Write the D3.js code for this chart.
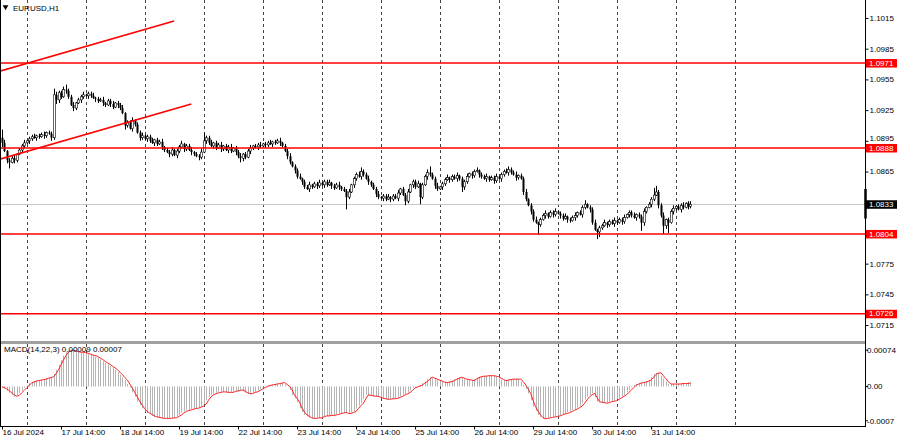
<!DOCTYPE html>
<html><head><meta charset="utf-8">
<script src="https://cdn.jsdelivr.net/npm/d3@7"></script>
<style>
body{margin:0;background:#fff}
svg{display:block}
text{font-family:"Liberation Sans",Arial,sans-serif;font-size:8px;fill:#000}
</style>
</head><body>
<svg id="c" width="900" height="441"></svg>
<script>
// ---------------- DATA ----------------
const symbolTitle = "EURUSD,H1";
const macdTitle = "MACD(14,22,3) 0.00009 0.00007";
const dateLabels = ["16 Jul 2024","17 Jul 14:00","18 Jul 14:00","19 Jul 14:00","22 Jul 14:00","23 Jul 14:00","24 Jul 14:00","25 Jul 14:00","26 Jul 14:00","29 Jul 14:00","30 Jul 14:00","31 Jul 14:00"];
const dateLabelBars = [0,24,48,72,96,120,144,168,192,216,240,264];   // bar index of each label
const dayStartBars = [10,34,58,82,106,130,154,178,202,226,250,274,298]; // bar index of each midnight
const priceTicks = [1.1015,1.0985,1.0955,1.0925,1.0895,1.0865,1.0775,1.0745,1.0715];
const levels = [1.0971,1.0888,1.0804,1.0726];
const bidPrice = 1.0833;
const lastBarMarker = [1.0819,1.0848];
const trendLines = [
  [[-1,1.0963],[70,1.1012]],
  [[-1,1.0877],[77,1.0931]]
];
const macdTicks = [0.00074,0,-0.0007];
const macdTickLabels = ["0.00074","0.00","-0.0007"];

// H1 candles, prices in pips: price = 1 + pips/10000
const openPips = [898,893,885,876,874,878,876,882,886,890,
893,895,897,899,898,900,899,901,900,903,
902,898,940,935,942,938,945,944,938,930,
927,932,935,938,940,939,941,939,937,936,
934,935,932,930,934,931,928,932,930,927,
922,910,913,907,915,911,903,898,900,897,
899,895,893,896,892,894,889,886,884,882,
886,881,885,889,892,887,890,886,884,882,
880,879,884,895,898,893,890,893,888,891,
887,890,886,889,885,888,884,880,878,882,
879,885,888,890,889,891,890,892,891,893,
892,894,893,895,893,890,885,880,874,870,
866,860,858,855,850,848,852,850,853,851,
854,852,855,852,854,851,849,852,850,848,
846,840,845,852,858,862,860,865,862,858,
855,852,848,843,840,839,841,838,840,838,
841,839,844,848,842,836,845,852,855,850,
853,840,852,860,864,862,858,851,848,850,
853,857,859,857,860,858,861,858,850,855,
860,863,861,865,866,862,860,858,860,857,
859,856,860,858,862,865,864,867,864,862,
859,861,858,845,838,832,826,818,815,813,
818,822,824,821,825,823,826,824,822,819,
821,818,817,820,822,825,823,830,833,830,
828,815,808,806,810,812,815,813,816,814,
817,815,818,816,820,823,825,822,820,823,
821,815,826,830,833,838,842,845,832,822,
812,818,815,826,829,831,828,832,830,834,
831];
const highPips = [906,896,886,878,880,881,883,888,892,896,
896,899,901,902,901,902,903,904,904,905,
904,946,943,944,944,948,950,946,940,933,
933,937,940,943,941,943,943,942,938,938,
937,938,933,936,936,934,933,934,932,930,
923,915,915,918,916,913,905,903,901,901,
901,898,897,898,896,897,890,888,886,889,
887,887,891,895,893,892,892,889,885,884,
882,887,903,900,900,896,894,895,893,894,
891,892,891,892,889,890,886,883,883,884,
887,891,891,892,893,894,893,894,895,896,
895,896,897,898,894,892,887,883,875,872,
868,863,859,857,852,855,853,855,855,857,
855,857,857,857,855,853,854,855,851,850,
848,848,853,860,864,865,869,867,864,861,
856,854,850,846,841,843,843,843,841,843,
843,847,849,850,844,848,853,857,857,856,
854,854,862,867,870,864,860,854,851,855,
859,862,860,862,862,864,862,860,857,863,
864,865,867,869,867,864,862,863,861,861,
861,863,861,864,867,868,870,869,866,865,
862,863,860,848,839,834,828,821,816,820,
824,827,825,827,827,829,827,826,824,824,
822,820,822,825,826,827,832,837,834,832,
830,818,809,812,814,818,816,818,818,820,
818,820,820,823,824,827,827,825,824,825,
823,829,831,835,840,849,851,847,834,825,
819,820,828,832,832,833,834,835,835,836,
836];
const lowPips = [889,884,873,868,873,873,874,881,883,888,
892,892,895,897,895,897,898,897,898,901,
895,896,931,932,936,937,941,936,929,924,
925,931,932,936,938,936,937,936,933,932,
933,929,928,929,928,926,927,927,925,921,
906,908,906,904,909,902,895,896,896,894,
893,892,890,890,891,886,884,883,879,880,
880,878,883,888,884,885,885,881,880,879,
876,877,883,892,891,889,887,886,887,884,
885,885,883,883,884,881,878,874,875,877,
878,882,886,888,886,888,889,888,889,891,
889,891,892,890,888,884,877,872,869,863,
858,857,852,848,847,845,848,849,848,849,
851,849,850,851,848,847,848,847,846,845,
828,838,844,849,856,859,857,860,857,852,
850,847,840,838,838,836,836,837,835,836,
838,836,842,841,832,834,844,849,848,849,
833,838,851,857,860,857,848,846,847,847,
851,856,854,855,857,855,856,845,847,853,
859,858,859,864,859,858,857,855,855,856,
853,854,857,855,860,863,861,862,861,856,
857,857,842,836,831,823,816,814,803,811,
817,819,819,820,820,821,823,819,817,818,
815,815,816,817,820,822,820,828,829,825,
813,807,799,801,808,811,810,811,813,811,
813,814,813,814,819,820,820,819,817,819,
807,812,824,829,830,836,841,829,820,804,
809,805,814,823,827,827,825,828,829,828,
829];
const closePips = [893,885,876,874,878,876,882,886,890,893,
895,897,899,898,900,899,901,900,903,902,
898,940,935,942,938,945,944,938,930,927,
932,935,938,940,939,941,939,937,936,934,
935,932,930,934,931,928,932,930,927,922,
910,913,907,915,911,903,898,900,897,899,
895,893,896,892,894,889,886,884,882,886,
881,885,889,892,887,890,886,884,882,880,
879,884,895,898,893,890,893,888,891,887,
890,886,889,885,888,884,880,878,882,879,
885,888,890,889,891,890,892,891,893,892,
894,893,895,893,890,885,880,874,870,866,
860,858,855,850,848,852,850,853,851,854,
852,855,852,854,851,849,852,850,848,846,
840,845,852,858,862,860,865,862,858,855,
852,848,843,840,839,841,838,840,838,841,
839,844,848,842,836,845,852,855,850,853,
840,852,860,864,862,858,851,848,850,853,
857,859,857,860,858,861,858,850,855,860,
863,861,865,866,862,860,858,860,857,859,
856,860,858,862,865,864,867,864,862,859,
861,858,845,838,832,826,818,815,813,818,
822,824,821,825,823,826,824,822,819,821,
818,817,820,822,825,823,830,833,830,828,
815,808,806,810,812,815,813,816,814,817,
815,818,816,820,823,825,822,820,823,821,
815,826,830,833,838,842,845,832,822,812,
818,815,826,829,831,828,832,830,834,831,
833];
// MACD values in units of 1e-5
const macdHist = [-2,-5,-9,-13,-17,-21,-18,-13,-8,-3,
2,7,9,11,12,13,14,15,17,18,
20,26,34,44,54,63,70,73,74,73,
71,70,70,69,68,66,64,63,61,58,
55,51,48,45,41,38,34,29,24,18,
13,5,-3,-12,-21,-30,-38,-45,-51,-54,
-57,-60,-62,-63,-64,-65,-65,-65,-65,-64,
-64,-61,-58,-54,-51,-49,-48,-46,-45,-44,
-42,-40,-36,-28,-21,-17,-15,-13,-12,-11,
-11,-12,-12,-12,-10,-9,-8,-7,-10,-13,
-15,-14,-12,-11,-8,-5,-2,0,2,3,
4,5,6,7,8,4,0,-7,-18,-24,
-32,-44,-52,-58,-61,-64,-65,-65,-64,-64,
-62,-60,-60,-59,-59,-58,-57,-55,-54,-53,
-55,-55,-53,-51,-45,-39,-34,-25,-17,-18,
-19,-20,-20,-22,-24,-25,-26,-26,-25,-25,
-24,-22,-20,-17,-15,-12,-8,-3,-1,1,
3,7,10,15,19,17,15,13,11,9,
8,9,10,12,15,17,19,17,15,14,
13,12,15,18,20,21,21,22,22,22,
21,20,17,14,12,13,14,15,15,15,
15,10,3,-5,-14,-28,-41,-50,-58,-63,
-66,-65,-64,-63,-62,-61,-60,-58,-56,-55,
-53,-51,-48,-46,-43,-40,-34,-27,-21,-17,
-14,-22,-31,-32,-33,-34,-33,-31,-30,-29,
-26,-23,-20,-17,-12,-7,-2,3,5,7,
8,9,11,13,19,25,27,28,22,16,
10,5,5,5,5,5,6,6,6,8,
9];
const macdSignal = [-1,-2,-5,-9,-13,-17,-20,-18,-13,-8,
-3,2,7,9,11,12,13,14,15,17,
18,20,26,34,44,54,63,70,73,74,
73,71,70,70,69,68,66,64,63,61,
58,55,51,48,45,41,38,34,29,24,
18,13,5,-3,-12,-21,-30,-38,-45,-51,
-54,-57,-60,-62,-63,-64,-65,-65,-65,-65,
-64,-64,-61,-58,-54,-51,-49,-48,-46,-45,
-44,-42,-40,-36,-28,-21,-17,-15,-13,-12,
-11,-11,-12,-12,-12,-10,-9,-8,-7,-10,
-13,-15,-14,-12,-11,-8,-5,-2,0,2,
3,4,5,6,7,8,4,0,-7,-18,
-24,-32,-44,-52,-58,-61,-64,-65,-65,-64,
-64,-62,-60,-60,-59,-59,-58,-57,-55,-54,
-53,-55,-55,-53,-51,-45,-39,-34,-25,-17,
-18,-19,-20,-20,-22,-24,-25,-26,-26,-25,
-25,-24,-22,-20,-17,-15,-12,-8,-3,-1,
1,3,7,10,15,19,17,15,13,11,
9,8,9,10,12,15,17,19,17,15,
14,13,12,15,18,20,21,21,22,22,
22,21,20,17,14,12,13,14,15,15,
15,15,10,3,-5,-14,-28,-41,-50,-58,
-63,-66,-65,-64,-63,-62,-61,-60,-58,-56,
-55,-53,-51,-48,-46,-43,-40,-34,-27,-21,
-17,-14,-22,-31,-32,-33,-34,-33,-31,-30,
-29,-26,-23,-20,-17,-12,-7,-2,3,5,
7,8,9,11,13,19,25,27,28,22,
16,10,5,5,5,5,5,6,6,6,
7];

// ---------------- DRAW ----------------
const svg = d3.select("#c");
const W = 900, H = 441;
const plotRight = 865, mainBottom = 341, macdTop = 344, macdBottom = 426;
const pips = v => 1 + v / 10000;
const candles = closePips.map((c, i) => ({i, o: pips(openPips[i]), h: pips(highPips[i]), l: pips(lowPips[i]), c: pips(c)}));

const x = d3.scaleLinear().domain([0, 351]).range([2, plotRight]);
const y = d3.scaleLinear().domain([1.06994, 1.10326]).range([mainBottom, 0]);
const ym = d3.scaleLinear().domain([-0.0008, 0.00084]).range([425.7, 345.3]);

svg.append("rect").attr("width", W).attr("height", H).attr("fill", "#fff");

// dashed day grid lines in both panels
const grid = svg.append("g");
dayStartBars.forEach(b => {
  const gx = Math.round(x(b)) + 0.5;
  grid.append("line").attr("x1", gx).attr("x2", gx).attr("y1", 0).attr("y2", mainBottom)
    .attr("stroke", "#444").attr("stroke-dasharray", "3,3");
  grid.append("line").attr("x1", gx).attr("x2", gx).attr("y1", macdTop).attr("y2", macdBottom)
    .attr("stroke", "#444").attr("stroke-dasharray", "3,3");
});

// bid line
svg.append("line").attr("x1", 0).attr("x2", plotRight).attr("y1", Math.round(y(bidPrice)) + 0.5).attr("y2", Math.round(y(bidPrice)) + 0.5)
  .attr("stroke", "#c8c8c8");

// candles
const cg = svg.append("g");
candles.forEach(d => {
  const px = Math.round(x(d.i)) + 0.5;
  cg.append("line").attr("x1", px).attr("x2", px).attr("y1", y(d.h)).attr("y2", y(d.l))
    .attr("stroke", "#000").attr("stroke-width", 1);
  const top = y(Math.max(d.o, d.c)), bot = y(Math.min(d.o, d.c));
  const bull = d.c >= d.o;
  cg.append("rect").attr("x", px - 1).attr("width", 2)
    .attr("y", top).attr("height", Math.max(1, bot - top))
    .attr("fill", bull ? "#fff" : "#000").attr("stroke", "#000").attr("stroke-width", bull ? 0.6 : 0);
});

// trend lines
trendLines.forEach(t => {
  svg.append("line").attr("x1", x(t[0][0])).attr("y1", y(t[0][1])).attr("x2", x(t[1][0])).attr("y2", y(t[1][1]))
    .attr("stroke", "#ff0000").attr("stroke-width", 1.6);
});
// horizontal levels
levels.forEach(l => {
  svg.append("line").attr("x1", 0).attr("x2", plotRight).attr("y1", y(l)).attr("y2", y(l))
    .attr("stroke", "#ff0000").attr("stroke-width", 1.6);
});

// title
svg.append("path").attr("d", d3.symbol(d3.symbolTriangle, 14)()).attr("transform", "translate(5.5,7) rotate(180)").attr("fill", "#000");
svg.append("text").attr("x", 13).attr("y", 10.5).text(symbolTitle);

// separator between panels
svg.append("rect").attr("x", 0).attr("y", mainBottom).attr("width", plotRight).attr("height", macdTop - mainBottom).attr("fill", "#a0a0a0");

// MACD histogram
const mg = svg.append("g");
macdHist.forEach((v, i) => {
  const px = Math.round(x(i)) + 0.5;
  mg.append("line").attr("x1", px).attr("x2", px).attr("y1", ym(0)).attr("y2", ym(v * 1e-5))
    .attr("stroke", "#b4b4b4").attr("stroke-width", 1);
});
svg.append("path").datum(macdSignal)
  .attr("d", d3.line().x((v, i) => x(i)).y(v => ym(v * 1e-5)))
  .attr("fill", "none").attr("stroke", "#ff2020").attr("stroke-width", 1);
svg.append("text").attr("x", 4).attr("y", 352).text(macdTitle);

// frame
svg.append("line").attr("x1", 0.5).attr("x2", 0.5).attr("y1", 0).attr("y2", macdBottom).attr("stroke", "#000");
svg.append("line").attr("x1", plotRight + 0.5).attr("x2", plotRight + 0.5).attr("y1", 0).attr("y2", macdBottom).attr("stroke", "#000");
svg.append("line").attr("x1", 0).attr("x2", plotRight + 1).attr("y1", macdBottom + 0.5).attr("y2", macdBottom + 0.5).attr("stroke", "#000");

// right price axis
const ax = svg.append("g").attr("transform", `translate(${plotRight + 0.5},0)`)
  .call(d3.axisRight(y).tickValues(priceTicks).tickSize(3).tickFormat(d3.format(".4f")));
ax.select(".domain").remove();
ax.selectAll("text").attr("x", 4).attr("dy", "0.3em").style("font-size", "8px").style("font-family", "Liberation Sans, Arial, sans-serif");
// a tick label crowded by a level box is nudged up (as the terminal does)
ax.selectAll(".tick").filter(d => levels.some(l => Math.abs(y(l) - y(d)) < 9)).select("text").attr("dy", "-0.05em");

// level labels
const labelBox = (p, bg) => {
  const cy = y(p);
  svg.append("rect").attr("x", plotRight + 1).attr("y", cy - 4).attr("width", 31).attr("height", 8.5).attr("fill", bg);
  svg.append("text").attr("x", plotRight + 4).attr("y", cy).attr("dy", "0.34em").style("fill", "#fff").text(d3.format(".4f")(p));
};
levels.forEach(l => labelBox(l, "#ff0000"));
svg.append("line").attr("x1", plotRight + 0.5).attr("x2", plotRight + 0.5).attr("y1", y(lastBarMarker[1])).attr("y2", y(lastBarMarker[0]))
  .attr("stroke", "#000").attr("stroke-width", 2.5);
labelBox(bidPrice, "#000");

// MACD axis
macdTicks.forEach((v, k) => {
  const ty = Math.max(ym(v), macdTop);
  svg.append("line").attr("x1", plotRight).attr("x2", plotRight + 3).attr("y1", ty).attr("y2", ty).attr("stroke", "#000");
  svg.append("text").attr("x", plotRight + 2).attr("y", ty).attr("dy", "0.34em").text(macdTickLabels[k]);
});

// bottom time axis
const bx = svg.append("g").attr("transform", `translate(0,${macdBottom + 0.5})`)
  .call(d3.axisBottom(x).tickValues(dateLabelBars).tickSize(3).tickFormat((d, k) => dateLabels[k]));
bx.select(".domain").remove();
bx.selectAll("text").attr("text-anchor", "start").attr("x", 0).attr("y", 3).attr("dy", "0.71em")
  .style("font-size", "8px").style("font-family", "Liberation Sans, Arial, sans-serif");
</script>
</body></html>
